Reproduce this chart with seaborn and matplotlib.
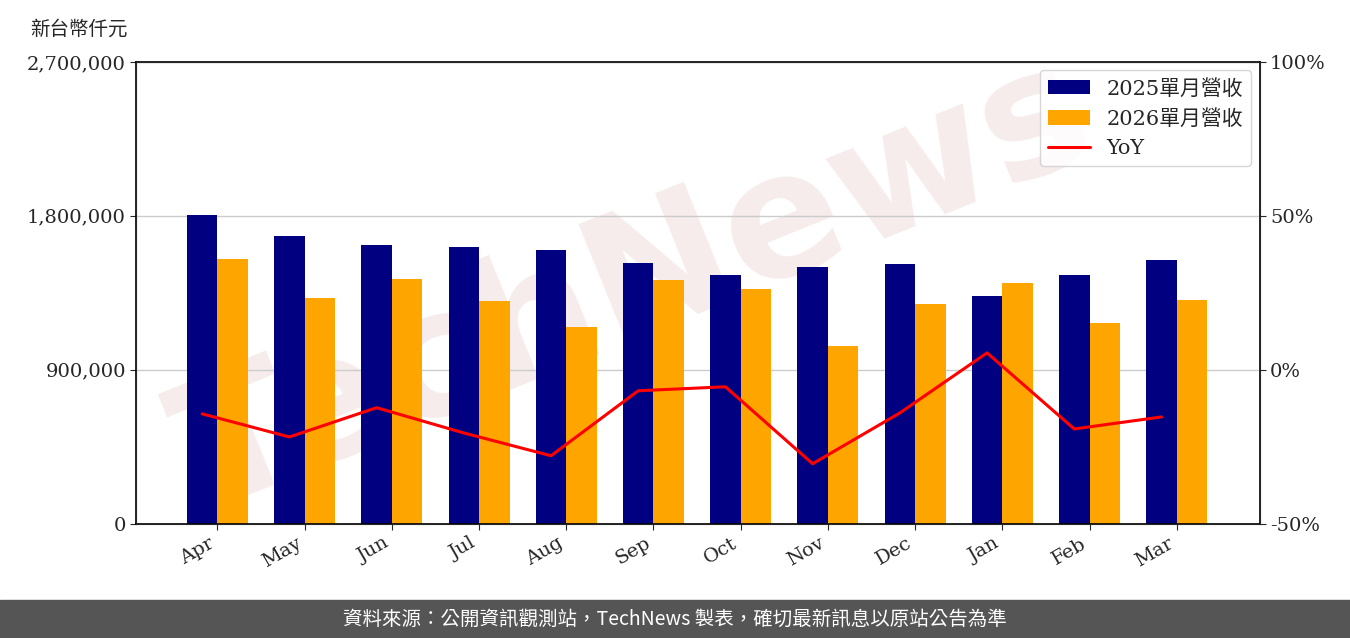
import pandas as pd
import matplotlib
matplotlib.use('Agg')
import matplotlib.pyplot as plt
import seaborn as sns
from matplotlib.ticker import FuncFormatter

# ── Data ─────────────────────────────────────────────────────────────────────
MONTHS   = ['Apr', 'May', 'Jun', 'Jul', 'Aug', 'Sep', 'Oct', 'Nov', 'Dec', 'Jan', 'Feb', 'Mar']
REV_2025 = [1805000, 1683000, 1630000, 1619000, 1601000, 1525000,
            1455000, 1502000, 1519000, 1332000, 1455000, 1543000]
REV_2026 = [1549000, 1321000, 1432000, 1303000, 1151000, 1426000,
            1373000, 1040000, 1286000, 1408000, 1175000, 1309000]
YOY      = [-14.3, -21.8, -12.3, -20.5, -27.9, -6.8, -5.5, -30.5, -14.0, 5.5, -19.2, -15.3]
LABEL_25 = '2025單月營收'
LABEL_26 = '2026單月營收'

NAVY, ORANGE, RED = '#000080', '#FFA500', '#FF0000'
FONTS = ['DejaVu Serif', 'Noto Sans CJK TC']

sns.set_style('white')
plt.rcParams['font.family'] = FONTS

df = pd.DataFrame({'Month': MONTHS * 2,
                   'Revenue': REV_2025 + REV_2026,
                   'Series': [LABEL_25] * 12 + [LABEL_26] * 12})

fig = plt.figure(figsize=(13.5, 6.38), dpi=100)
ax = fig.add_axes([0.101, 0.179, 0.832, 0.724])
ax.patch.set_alpha(0)

sns.barplot(data=df, x='Month', y='Revenue', hue='Series', order=MONTHS,
            palette=[NAVY, ORANGE], width=0.7, saturation=1, linewidth=0,
            ax=ax, zorder=2)
ax.set_ylim(0, 2700000)
ax.set_yticks([0, 900000, 1800000, 2700000])
ax.yaxis.set_major_formatter(FuncFormatter(lambda v, _: f"{int(v):,}"))
ax.grid(axis='y', color='#cccccc', linewidth=1, zorder=0)
ax.set_xlim(-0.93, 11.95)
ax.set_xlabel('')
ax.set_ylabel('')
ax.tick_params(axis='both', labelsize=14, length=4, left=True, bottom=True)
plt.setp(ax.get_xticklabels(), rotation=30, ha='right')
for s in ax.spines.values():
    s.set_color('black')
    s.set_linewidth(1.2)

ax2 = ax.twinx()
ax2.patch.set_alpha(0)
sns.lineplot(x=[i - 0.175 for i in range(len(MONTHS))], y=YOY, color=RED, linewidth=2.2,
             ax=ax2, label='YoY', legend=False)
ax2.set_ylim(-50, 100)
ax2.set_yticks([-50, 0, 50, 100])
ax2.yaxis.set_major_formatter(FuncFormatter(lambda v, _: f"{int(v)}%"))
ax2.tick_params(axis='y', labelsize=14, length=4, right=True)
ax2.set_xlim(-0.93, 11.95)

h1, l1 = ax.get_legend_handles_labels()
h2, l2 = ax2.get_legend_handles_labels()
ax.get_legend().remove()
ax2.legend(h1 + h2, l1 + l2, loc='upper right', fontsize=15, frameon=True,
           edgecolor='#cccccc', fancybox=True, borderaxespad=0.4)

fig.text(0.022, 0.955, '新台幣仟元', fontsize=14, family=['Noto Sans CJK TC'], va='center')

# watermark (behind the axes)
fig.text(0.47, 0.55, 'TechNews', fontsize=125, fontweight='bold', rotation=22,
         color='#e6c8c8', alpha=0.35, ha='center', va='center',
         family=['DejaVu Sans'], zorder=-1)

# footer band
fig.patches.append(plt.Rectangle((0, 0), 1, 0.06, transform=fig.transFigure,
                                 color='#555555', zorder=0))
fig.text(0.5, 0.03, '資料來源：公開資訊觀測站，TechNews 製表，確切最新訊息以原站公告為準',
         fontsize=14, color='white', ha='center', va='center',
         family=['Noto Sans CJK TC', 'DejaVu Sans'])

fig.savefig('out.png', dpi=100, facecolor='white')
